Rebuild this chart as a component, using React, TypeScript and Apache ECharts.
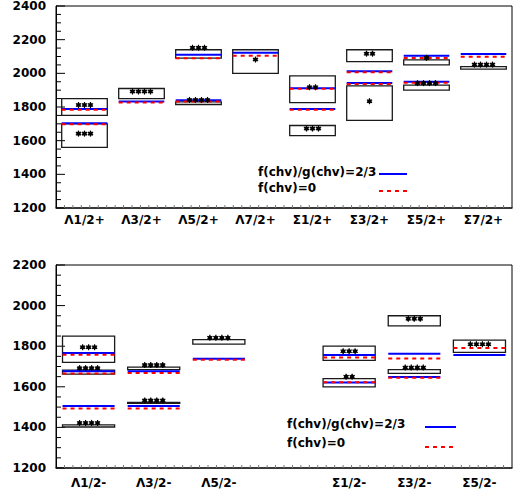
import React, { useEffect, useRef } from 'react';
import * as echarts from 'echarts';

// ---------- data ----------
const topCategories = ['Λ1/2+', 'Λ3/2+', 'Λ5/2+', 'Λ7/2+', 'Σ1/2+', 'Σ3/2+', 'Σ5/2+', 'Σ7/2+'];
// [category index, low, high, star rating]
const topBoxes = [
  [0, 1750, 1850, 3], [0, 1560, 1700, 3],
  [1, 1850, 1910, 4],
  [2, 2090, 2140, 3], [2, 1815, 1830, 4],
  [3, 2000, 2140, 1],
  [4, 1826, 1985, 2], [4, 1630, 1690, 3],
  [5, 2070, 2140, 2], [5, 1720, 1925, 1],
  [6, 2050, 2080, 1], [6, 1900, 1930, 4],
  [7, 2025, 2040, 4],
];
// f(chv)/g(chv)=2/3 : [category index, mass]
const topBlue = [
  [0, 1788], [0, 1704], [1, 1832], [2, 2111], [2, 1840], [3, 2123],
  [4, 1912], [4, 1788], [5, 2012], [5, 1943], [6, 2105], [6, 1950], [7, 2115],
];
// f(chv)=0
const topRed = [
  [0, 1784], [0, 1698], [1, 1826], [2, 2089], [2, 1832], [3, 2105],
  [4, 1908], [4, 1784], [5, 2006], [5, 1937], [6, 2091], [6, 1944], [7, 2099],
];

const bottomCategories = ['Λ1/2-', 'Λ3/2-', 'Λ5/2-', '', 'Σ1/2-', 'Σ3/2-', 'Σ5/2-'];
const bottomBoxes = [
  [0, 1720, 1850, 3], [0, 1662, 1682, 4], [0, 1402, 1412, 4],
  [1, 1685, 1697, 4], [1, 1519, 1523, 4],
  [2, 1810, 1832, 4],
  [4, 1730, 1800, 3], [4, 1600, 1640, 2],
  [5, 1900, 1950, 3], [5, 1666, 1685, 4],
  [6, 1770, 1830, 4],
];
const bottomBlue = [
  [0, 1767], [0, 1676], [0, 1506], [1, 1676], [1, 1506], [2, 1738],
  [4, 1757], [4, 1621], [5, 1763], [5, 1648], [6, 1757],
];
const bottomRed = [
  [0, 1758], [0, 1666], [0, 1493], [1, 1668], [1, 1493], [2, 1733],
  [4, 1744], [4, 1623], [5, 1740], [5, 1645], [6, 1791],
];

const topYTicks = { min: 1200, max: 2400, step: 200 };
const bottomYTicks = { min: 1200, max: 2200, step: 200 };
const minorPerMajor = 4;
const xTickCount = 54;

const legendLabels = ['f(chv)/g(chv)=2/3', 'f(chv)=0'];

// ---------- styles ----------
const FONT = 'DejaVu Sans';
const BLUE = '#0000ff';
const RED = '#ff0000';

const renderBox = (_p: any, api: any) => {
  const c = api.value(0), lo = api.value(1), hi = api.value(2);
  const a = api.coord([c + 0.1, hi]);
  const b = api.coord([c + 0.9, lo]);
  return {
    type: 'rect',
    shape: { x: a[0], y: a[1], width: b[0] - a[0], height: Math.max(b[1] - a[1], 0.6) },
    style: { fill: 'transparent', stroke: '#1a1a1a', lineWidth: 1.3 },
  };
};

const renderStars = (_p: any, api: any) => {
  const c = api.value(0), lo = api.value(1), hi = api.value(2), n = api.value(3);
  const top = api.coord([c + 0.5, hi]);
  const bot = api.coord([c + 0.5, lo]);
  const h = bot[1] - top[1];
  const y = h >= 9 ? (top[1] + bot[1]) / 2 - 2 : top[1] - 2;
  const children: any[] = [];
  for (let k = 0; k < n; k++) {
    const x = top[0] + (k - (n - 1) / 2) * 6;
    children.push({ type: 'circle', shape: { cx: x, cy: y, r: 2.1 }, style: { fill: '#000' } });
    for (let j = 0; j < 3; j++) {
      const ang = (Math.PI / 3) * j + Math.PI / 2;
      const dx = Math.cos(ang) * 3, dy = Math.sin(ang) * 3;
      children.push({
        type: 'line',
        shape: { x1: x - dx, y1: y - dy, x2: x + dx, y2: y + dy },
        style: { stroke: '#000', lineWidth: 1.2 },
      });
    }
  }
  return { type: 'group', children };
};

const makeLineRenderer = (color: string, dash?: number[]) => (_p: any, api: any) => {
  const c = api.value(0), v = api.value(1);
  const a = api.coord([c + 0.1, v]);
  const b = api.coord([c + 0.9, v]);
  const style: any = { stroke: color, lineWidth: 2 };
  if (dash) style.lineDash = dash;
  return { type: 'line', shape: { x1: a[0], y1: a[1], x2: b[0], y2: b[1] }, style };
};

// y-axis ticks (major + minor), pointing into the plot
const renderYTick = (_p: any, api: any) => {
  const x0 = api.value(0), v = api.value(1), major = api.value(2);
  const p = api.coord([x0, v]);
  return {
    type: 'line',
    shape: { x1: p[0], y1: p[1], x2: p[0] + (major ? 9 : 5), y2: p[1] },
    style: { stroke: '#000', lineWidth: 1 },
  };
};

// x-axis small ticks, pointing up into the plot
const renderXTick = (_p: any, api: any) => {
  const x = api.value(0), y0 = api.value(1);
  const p = api.coord([x, y0]);
  return {
    type: 'line',
    shape: { x1: p[0], y1: p[1], x2: p[0], y2: p[1] - 3 },
    style: { stroke: '#777', lineWidth: 1 },
  };
};

function yTickData(t: { min: number; max: number; step: number }) {
  const out: number[][] = [];
  const minor = t.step / minorPerMajor;
  const n = Math.round((t.max - t.min) / minor);
  for (let k = 0; k <= n; k++) out.push([0, t.min + k * minor, k % minorPerMajor === 0 ? 1 : 0]);
  return out;
}

function xTickData(nCats: number, yMin: number) {
  const out: number[][] = [];
  for (let k = 1; k < xTickCount; k++) out.push([(k * nCats) / xTickCount, yMin]);
  return out;
}

function panelSeries(boxes: number[][], blue: number[][], red: number[][], xi: number, yi: number,
  t: { min: number; max: number; step: number }, nCats: number) {
  const base = { type: 'custom', xAxisIndex: xi, yAxisIndex: yi, clip: false, silent: true };
  return [
    { ...base, z: 1, renderItem: renderYTick, dimensions: ['x', 'v', 'm'], encode: { x: 0, y: 1 }, data: yTickData(t) },
    { ...base, z: 1, renderItem: renderXTick, dimensions: ['x', 'v'], encode: { x: 0, y: 1 }, data: xTickData(nCats, t.min) },
    { ...base, z: 2, renderItem: renderBox, dimensions: ['c', 'lo', 'hi', 'n'], encode: { x: 0, y: [1, 2] }, data: boxes },
    { ...base, z: 3, renderItem: makeLineRenderer(BLUE), dimensions: ['c', 'v'], encode: { x: 0, y: 1 }, data: blue },
    { ...base, z: 4, renderItem: makeLineRenderer(RED, [4, 4]), dimensions: ['c', 'v'], encode: { x: 0, y: 1 }, data: red },
    { ...base, z: 5, renderItem: renderStars, dimensions: ['c', 'lo', 'hi', 'n'], encode: { x: 0, y: [1, 2] }, data: boxes },
  ];
}

function labelAxis(grid: number, cats: string[], margin: number) {
  return {
    gridIndex: grid,
    type: 'value',
    min: 0,
    max: cats.length,
    interval: 0.5,
    position: 'bottom',
    axisLine: { show: true, onZero: false, lineStyle: { color: '#222', width: 1.5 } },
    axisTick: { show: false },
    minorTick: { show: false },
    splitLine: { show: false },
    axisLabel: {
      margin,
      fontFamily: FONT,
      fontWeight: 'bold',
      fontSize: 12,
      color: '#000',
      formatter: (v: number) => {
        const i = Math.round(v - 0.5);
        if (Math.abs(v - 0.5 - i) < 1e-6 && i >= 0 && i < cats.length) return cats[i];
        return '';
      },
    },
  };
}

function yAxis(grid: number, t: { min: number; max: number; step: number }) {
  return {
    gridIndex: grid,
    type: 'value',
    position: 'left',
    min: t.min,
    max: t.max,
    interval: t.step,
    axisLine: { show: true, onZero: false, lineStyle: { color: '#000', width: 1 } },
    axisTick: { show: false },
    minorTick: { show: false },
    splitLine: { show: false },
    axisLabel: {
      margin: 10,
      fontFamily: FONT,
      fontWeight: 'bold',
      fontSize: 12,
      color: '#000',
      formatter: (v: number) => String(v),
    },
  };
}

function legendGraphics(tx: number, ty1: number, ty2: number, lx1: number, lx2: number, ly1: number, ly2: number) {
  const textStyle = { fontFamily: FONT, fontWeight: 'bold', fontSize: 12, fill: '#000', verticalAlign: 'middle', align: 'left' };
  return [
    { type: 'text', x: tx, y: ty1, style: { ...textStyle, text: legendLabels[0] } },
    { type: 'text', x: tx, y: ty2, style: { ...textStyle, text: legendLabels[1] } },
    { type: 'line', shape: { x1: lx1, y1: ly1, x2: lx2, y2: ly1 }, style: { stroke: BLUE, lineWidth: 2 } },
    { type: 'line', shape: { x1: lx1, y1: ly2, x2: lx2, y2: ly2 }, style: { stroke: RED, lineWidth: 2, lineDash: [4, 4] } },
  ];
}

export default function App() {
  const ref = useRef<HTMLDivElement>(null);
  useEffect(() => {
    if (!ref.current) return;
    const chart = echarts.init(ref.current, undefined, { renderer: 'svg' });
    chart.setOption({
      animation: false,
      backgroundColor: '#fff',
      grid: [
        { left: 56, top: 6, width: 460, height: 202, show: true, borderColor: '#000', borderWidth: 1, backgroundColor: 'transparent' },
        { left: 56, top: 265, width: 460, height: 203, show: true, borderColor: '#000', borderWidth: 1, backgroundColor: 'transparent' },
      ],
      xAxis: [labelAxis(0, topCategories, 6), labelAxis(1, bottomCategories, 9)],
      yAxis: [yAxis(0, topYTicks), yAxis(1, bottomYTicks)],
      series: [
        ...panelSeries(topBoxes, topBlue, topRed, 0, 0, topYTicks, topCategories.length),
        ...panelSeries(bottomBoxes, bottomBlue, bottomRed, 1, 1, bottomYTicks, bottomCategories.length),
      ],
      graphic: [
        ...legendGraphics(258, 172, 188, 379, 407, 174, 191),
        ...legendGraphics(287, 424, 443, 425, 456, 427, 447),
      ],
    });
    return () => chart.dispose();
  }, []);
  return <div ref={ref} style={{ position: 'fixed', left: 0, top: 0, width: 515, height: 495 }} />;
}
